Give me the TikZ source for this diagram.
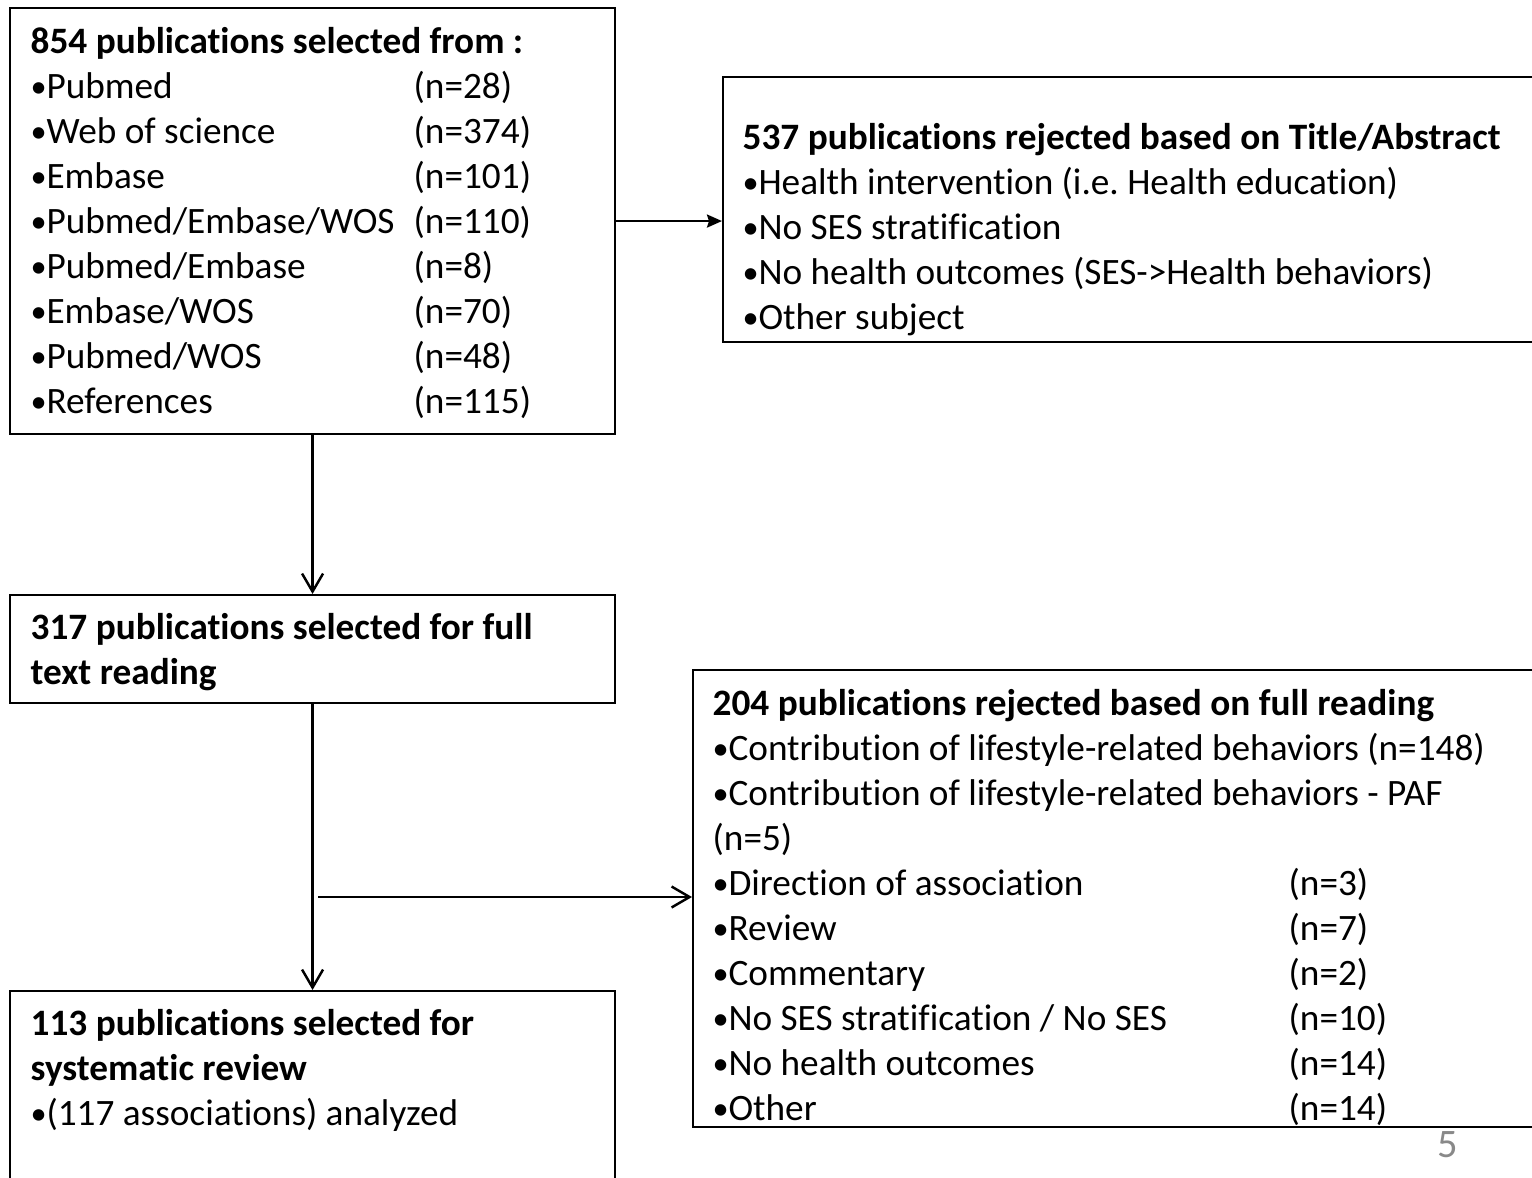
\documentclass[tikz,border=0pt]{standalone}
\usepackage{fontspec}
\setmainfont{Carlito}[Ligatures=NoCommon]
\usepackage{tikz}
\usetikzlibrary{calc}
\usetikzlibrary{arrows.meta, positioning}
\tikzset{>=stealth}
\definecolor{slidegray}{HTML}{898989}
\tikzset{
  box/.style={draw, line width=0.6pt, inner sep=0pt, anchor=north west},
  txt/.style={inner sep=0pt, align=left, font=\fontsize{10.6}{12.8}\selectfont},
  solidarr/.style={line width=0.7pt, -{Stealth[length=1.5mm,width=1.3mm,inset=0.2mm]}},
  openarr/.style={line width=0.7pt, -{Straight Barb[length=1.8mm,width=2.1mm]}}
}
\newcommand{\bul}{\makebox[4.5pt][l]{\fontsize{9.2}{9.2}\selectfont\raisebox{0.3pt}{•}}}
\newcommand{\nrow}[3]{\makebox[#1][l]{\bul#2}(n=#3)}
\frenchspacing

\begin{document}
\begin{tikzpicture}
				\useasboundingbox (0,0) rectangle (15.32,-11.78);
				\fill [white] (0,0) rectangle (15.32,-11.78);
				\clip (0,0) rectangle (15.32,-11.78);

				% boxes
				\draw (0.09,-0.07) node (src) [box, minimum width=6.05cm, minimum height=4.26cm] {};
				\draw (7.22,-0.76) node (rej1) [box, minimum width=8.40cm, minimum height=2.65cm] {};
				\draw (0.09,-5.94) node (full) [box, minimum width=6.05cm, minimum height=1.08cm] {};
				\draw (6.92,-6.69) node (rej2) [box, minimum width=8.70cm, minimum height=4.57cm] {};
				\draw (0.09,-9.90) node (sys) [box, minimum width=6.05cm, minimum height=2.20cm] {};

				% texts
				\node (srct) [txt, below right=0.145cm and 0.21cm of src.north west] {\strut\textbf{854 publications selected from :}\\
					\nrow{3.83cm}{Pubmed}{28}\\
					\nrow{3.83cm}{Web of science}{374}\\
					\nrow{3.83cm}{Embase}{101}\\
					\nrow{3.83cm}{Pubmed/Embase/WOS}{110}\\
					\nrow{3.83cm}{Pubmed/Embase}{8}\\
					\nrow{3.83cm}{Embase/WOS}{70}\\
					\nrow{3.83cm}{Pubmed/WOS}{48}\\
					\nrow{3.83cm}{References}{115}};
				\node (rej1t) [txt, below right=0.415cm and 0.20cm of rej1.north west] {\strut\textbf{537 publications rejected based on Title/Abstract}\\
					\bul Health intervention (i.e. Health education)\\
					\bul No SES stratification\\
					\bul No health outcomes (SES->Health behaviors)\\
					\bul Other subject};
				\node (fullt) [txt, below right=0.135cm and 0.21cm of full.north west] {\strut\textbf{317 publications selected for full}\\
					\textbf{text reading}};
				\node (rej2t) [txt, below right=0.145cm and 0.20cm of rej2.north west] {\strut\textbf{204 publications rejected based on full reading}\\
					\bul Contribution of lifestyle-related behaviors (n=148)\\
					\bul Contribution of lifestyle-related behaviors - PAF\\
					(n=5)\\
					\nrow{5.76cm}{Direction of association}{3}\\
					\nrow{5.76cm}{Review}{7}\\
					\nrow{5.76cm}{Commentary}{2}\\
					\nrow{5.76cm}{No SES stratification / No SES}{10}\\
					\nrow{5.76cm}{No health outcomes}{14}\\
					\nrow{5.76cm}{Other}{14}};
				\node (syst) [txt, below right=0.135cm and 0.21cm of sys.north west] {\strut\textbf{113 publications selected for}\\
					\textbf{systematic review}\\
					\bul(117 associations) analyzed};

				% connectors
				\coordinate (split) at (3.18,-8.97);
				\draw [solidarr] (src.east) -- (src.east -| rej1.west);
				\draw [openarr] (src.south) -- (full.north);
				\draw [openarr] (full.south) -- (sys.north);
				\draw [openarr] (split) -- (split -| rej2.west);

				\node (pageno) [txt, text=slidegray, font=\fontsize{11.5}{12}\selectfont] at (14.48,-11.45) {5};
			\end{tikzpicture}
\end{document}
